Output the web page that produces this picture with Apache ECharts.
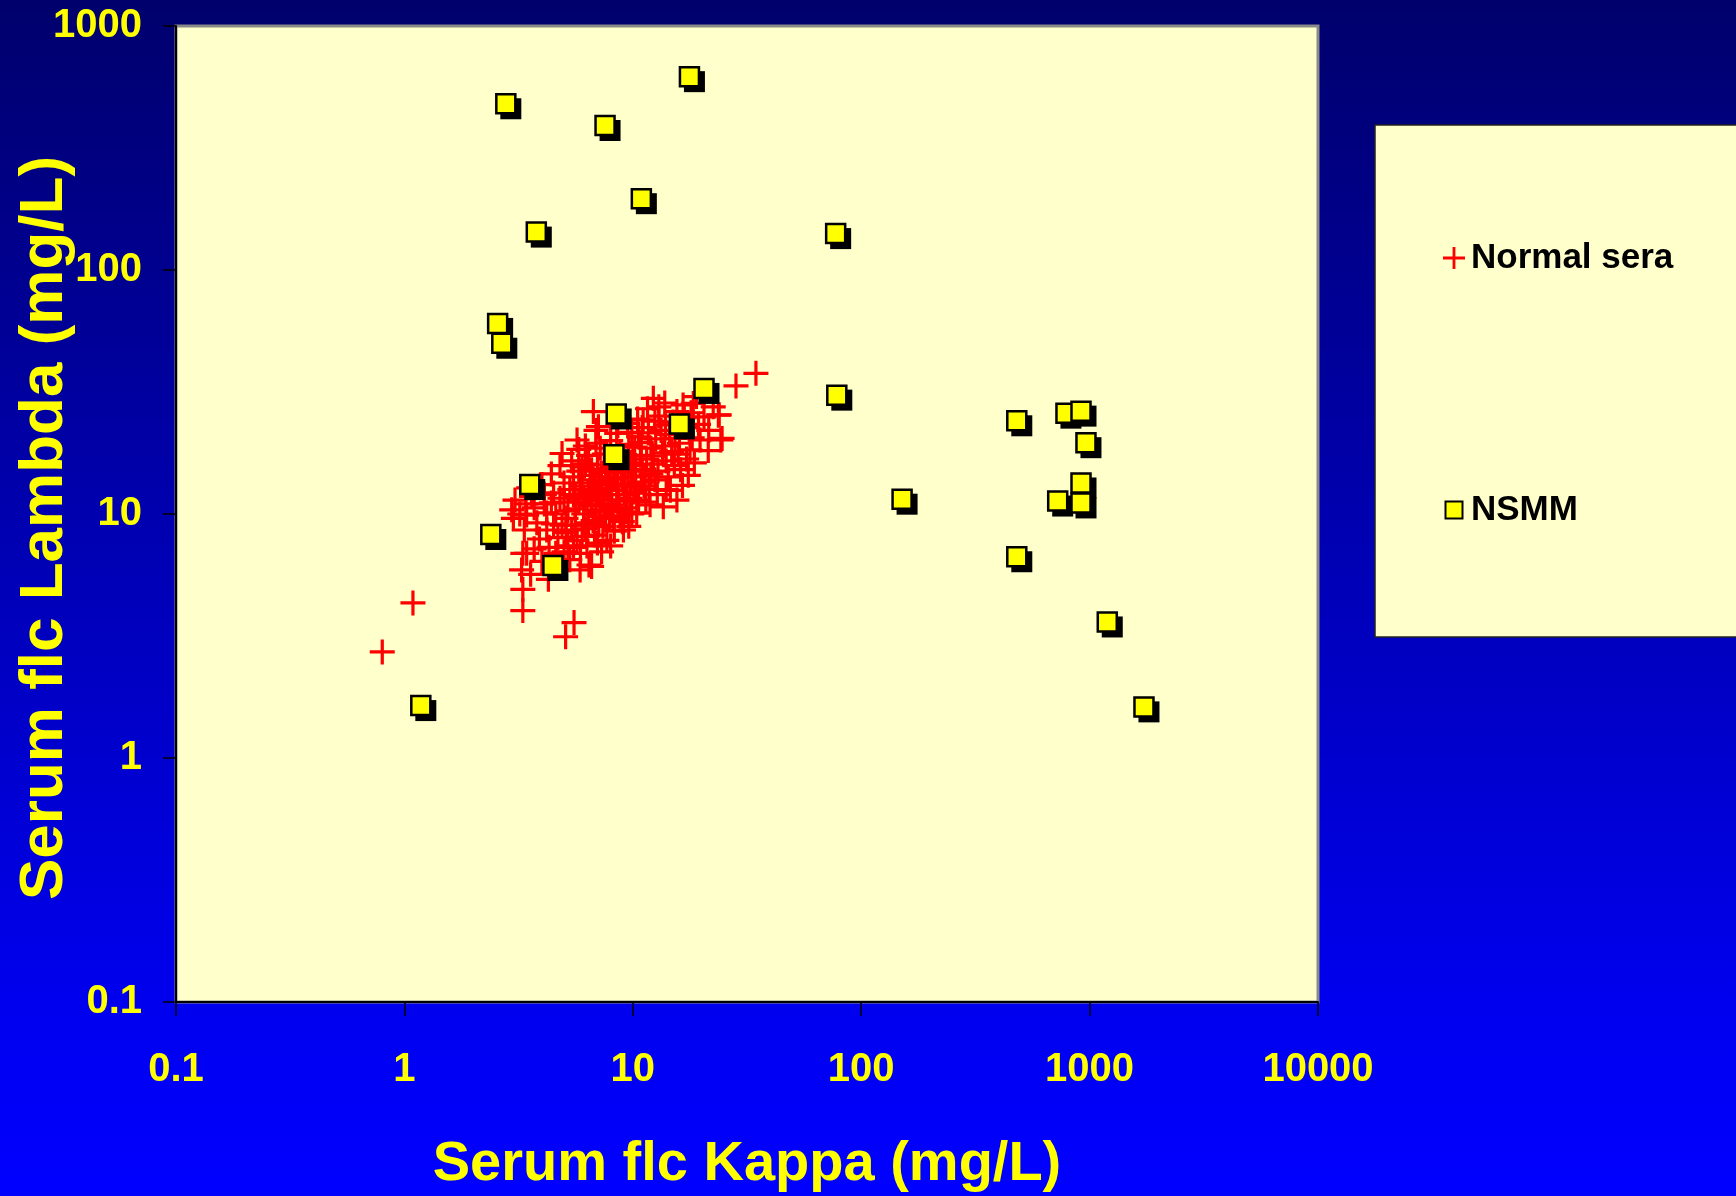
<!DOCTYPE html>
<html>
<head>
<meta charset="utf-8">
<script src="https://cdn.jsdelivr.net/npm/echarts@6/dist/echarts.min.js"></script>
<style>
html,body{margin:0;padding:0;width:1736px;height:1196px;overflow:hidden;}
#chart{width:1736px;height:1196px;}
</style>
</head>
<body>
<div id="chart"></div>
<script>
// ---- data ----
const seriesNames = ['Normal sera', 'NSMM'];
const xTickLabels = ['0.1', '1', '10', '100', '1000', '10000'];
const yTickLabels = ['0.1', '1', '10', '100', '1000'];
const xTitle = 'Serum flc Kappa (mg/L)';
const yTitle = 'Serum flc Lambda (mg/L)';

// Normal sera: [kappa, lambda] mg/L
const normalSera = [
  [0.80, 2.72], [1.09, 4.32], [3.30, 4.02], [3.30, 4.91], [3.26, 5.9], [3.30, 6.9], [3.43, 6.9],
  [3.57, 5.66], [4.27, 5.40], [5.08, 3.14], [5.53, 3.59], [6.43, 6.18], [34.6, 37.7], [28.3, 33.5],
  [23.9, 25.5], [24.3, 20.1], [21.4, 18.2], [19.4, 23.3], [18.4, 28.4],
  [2.95, 10.4], [3.05, 11.4], [3.0, 9.6], [3.2, 10.0], [3.43, 9.9], [3.35, 8.6], [3.6, 11.8],
  [3.5, 12.8], [3.7, 10.6], [3.8, 9.2], [3.9, 7.9], [3.7, 7.2], [4.0, 13.2], [4.1, 11.0],
  [4.2, 8.6], [4.0, 6.4], [4.3, 7.3], [4.4, 14.6], [4.5, 12.2], [4.6, 10.0], [4.5, 9.1],
  [4.7, 8.0], [4.6, 6.9], [4.8, 15.8], [4.9, 17.7], [5.0, 13.4], [5.0, 11.2], [5.1, 9.6],
  [5.1, 8.4], [5.2, 7.4], [5.3, 6.5], [5.4, 16.5], [5.5, 14.2], [5.5, 12.0], [5.6, 10.5],
  [5.6, 9.0], [5.7, 7.8], [5.7, 20.1], [5.8, 18.4], [5.9, 6.9], [5.88, 5.9], [6.0, 15.6],
  [6.0, 13.0], [6.1, 11.5], [6.1, 10.0], [6.2, 8.7], [6.3, 7.4], [6.4, 17.4], [6.5, 14.4],
  [6.5, 12.4], [6.6, 6.1], [6.6, 10.8], [6.7, 9.4], [6.72, 26.3], [6.8, 8.2], [6.9, 22.0],
  [6.9, 19.5], [7.0, 15.9], [7.07, 22.8], [7.1, 13.6], [7.2, 11.9], [7.2, 10.2], [7.3, 7.0],
  [7.4, 8.9], [7.5, 17.6], [7.6, 14.8], [7.7, 12.8], [7.7, 7.8], [7.8, 11.0], [7.9, 9.6],
  [8.0, 20.0], [8.1, 16.3], [8.2, 13.9], [8.3, 8.5], [8.5, 21.4], [8.5, 12.0], [8.6, 10.4],
  [8.8, 18.0], [8.9, 15.0], [9.0, 9.3], [9.1, 8.6], [9.2, 13.1], [9.3, 11.3], [9.5, 23.5],
  [9.6, 19.3], [9.7, 16.2], [9.9, 10.0], [10.0, 14.2], [10.1, 12.3], [10.4, 10.1], [10.5, 24.5],
  [10.6, 20.7], [10.8, 17.4], [11.0, 15.2], [11.1, 24.3], [11.2, 13.0], [11.4, 11.2], [11.7, 21.5],
  [12.0, 18.6], [12.2, 16.0], [12.3, 29.8], [12.5, 13.8], [12.8, 12.0], [13.0, 25.2], [13.3, 22.0],
  [13.6, 10.7], [13.8, 28.5], [13.8, 19.0], [14.0, 16.5], [14.3, 14.2], [14.6, 12.5], [15.0, 23.8],
  [15.3, 20.4], [15.6, 26.3], [15.6, 11.4], [15.8, 17.6], [16.2, 15.2], [16.5, 13.1], [17.0, 22.6],
  [17.5, 14.4], [17.8, 18.3], [18.2, 20.5], [18.6, 16.2], [19.0, 30.3], [19.7, 20.1], [20.5, 25.0],
  [21.5, 22.0], [22.5, 27.5], [23.7, 25.4], [24.6, 20.4], [18.0, 26.0], [16.6, 28.0], [11.6, 27.0],
  [6.3, 11.0], [6.8, 12.6], [7.5, 10.8], [8.0, 12.5], [8.4, 14.8], [8.7, 11.4], [9.4, 12.0],
  [9.8, 13.3], [10.3, 15.8], [10.9, 13.5], [11.5, 16.8], [12.0, 14.6], [7.1, 9.0], [7.8, 15.4],
  [6.2, 16.0], [5.3, 12.6], [5.8, 11.2], [6.7, 13.8], [9.0, 17.2], [10.2, 18.8], [12.6, 20.3],
  [13.9, 23.2], [14.8, 18.0], [4.2, 10.1], [4.8, 11.6], [5.0, 7.0], [5.4, 8.6], [6.4, 9.2],
  [7.0, 7.6], [8.2, 9.8], [9.6, 8.9],
  [5.2, 10.3], [5.6, 11.8], [5.9, 13.4], [6.1, 9.0], [6.4, 12.0], [6.6, 15.2], [6.9, 10.4],
  [7.0, 12.2], [7.3, 14.2], [7.4, 11.4], [7.6, 9.7], [7.9, 13.2], [8.1, 10.9], [8.3, 15.7],
  [8.6, 13.0], [8.8, 9.8], [9.0, 14.1], [9.2, 10.6], [9.5, 15.0], [9.7, 11.6], [10.0, 16.8],
  [10.3, 13.0], [10.6, 11.4], [10.9, 19.6], [11.3, 14.3], [11.8, 12.6], [12.3, 17.3], [12.9, 15.0],
  [13.5, 17.8], [14.5, 21.2], [15.2, 15.8], [16.0, 19.5], [16.8, 24.8], [17.2, 16.8], [6.0, 8.1],
  [5.5, 7.3], [4.9, 9.0], [4.4, 11.1], [4.1, 12.0], [3.4, 11.0], [6.2, 19.0], [7.2, 18.6],
  [8.6, 23.0], [9.9, 21.6], [11.0, 22.6], [12.5, 24.0], [13.0, 27.5], [8.0, 7.4], [9.4, 10.2],
  [11.9, 10.9], [14.0, 12.6], [5.8, 15.0]
];

// NSMM: [kappa, lambda] mg/L
const nsmm = [
  [2.78, 480], [17.7, 620], [7.56, 391], [10.9, 196], [3.78, 143], [77.3, 141],
  [2.56, 60.4], [2.67, 50.1], [20.5, 32.7], [78.2, 30.7], [8.46, 25.7], [16.0, 23.4],
  [8.27, 17.5], [3.54, 13.2], [2.39, 8.24], [4.47, 6.15], [1.18, 1.64], [151, 11.5],
  [480, 24.1], [480, 6.68], [788, 25.9], [917, 26.4], [964, 19.6], [917, 13.4],
  [725, 11.3], [917, 11.1], [1195, 3.61], [1730, 1.62]
];

// ---- styling ----
const BOLD = 'Liberation Sans, Arial, sans-serif';
const crossPath = 'path://M10.9,0 H14.1 V10.9 H25 V14.1 H14.1 V25 H10.9 V14.1 H0 V10.9 H10.9 Z';
const legendSquare = 'path://M0,0 M22,22 M2.5,2.5 H19.5 V19.5 H2.5 Z';
const labelFor = (arr) => (v) => {
  const i = Math.round(Math.log10(v)) + 1;
  return arr[i] !== undefined ? arr[i] : '';
};

const chart = echarts.init(document.getElementById('chart'), null, {renderer: 'canvas'});
chart.setOption({
  animation: false,
  backgroundColor: {
    type: 'linear', x: 0, y: 0, x2: 0, y2: 1,
    colorStops: [
      {offset: 0, color: '#00006C'},
      {offset: 0.85, color: '#0000F0'},
      {offset: 1, color: '#0000FF'}
    ]
  },
  grid: {
    left: 176, top: 26, width: 1142, height: 976,
    show: true, backgroundColor: '#FFFFCC', borderColor: '#8a8a8a', borderWidth: 3,
    containLabel: false, outerBoundsMode: 'none'
  },
  legend: {
    orient: 'vertical', left: 1375, top: 125,
    padding: [113, 120, 107, 67],
    itemGap: 212, itemWidth: 22, itemHeight: 22,
    backgroundColor: '#FFFFCC', borderColor: '#222', borderWidth: 1.5,
    selectedMode: false,
    textStyle: {color: '#000', fontFamily: BOLD, fontWeight: 'bold', fontSize: 35, lineHeight: 40, padding: [0, 0, 0, 1]},
    data: [
      {name: seriesNames[0], icon: crossPath},
      {name: seriesNames[1], icon: legendSquare}
    ]
  },
  xAxis: {
    type: 'log', logBase: 10, min: 0.1, max: 10000, splitNumber: 5,
    axisLine: {show: true, onZero: false, lineStyle: {color: '#000', width: 2}},
    axisTick: {show: true, inside: false, length: 14, lineStyle: {color: '#000', width: 1.5}},
    minorTick: {show: false}, splitLine: {show: false},
    axisLabel: {color: '#FFFF00', fontFamily: BOLD, fontWeight: 'bold', fontSize: 40, margin: 48,
      formatter: labelFor(xTickLabels)},
    name: xTitle, nameLocation: 'middle', nameGap: 135, nameMoveOverlap: false,
    nameTextStyle: {color: '#FFFF00', fontFamily: BOLD, fontWeight: 'bold', fontSize: 56}
  },
  yAxis: {
    type: 'log', logBase: 10, min: 0.1, max: 1000, splitNumber: 4,
    axisLine: {show: true, onZero: false, lineStyle: {color: '#000', width: 2}},
    axisTick: {show: true, inside: false, length: 13, lineStyle: {color: '#000', width: 1.5}},
    minorTick: {show: false}, splitLine: {show: false},
    axisLabel: {color: '#FFFF00', fontFamily: BOLD, fontWeight: 'bold', fontSize: 40, margin: 34,
      formatter: labelFor(yTickLabels)},
    name: yTitle, nameLocation: 'middle', nameRotate: 90, nameGap: 100, nameMoveOverlap: false,
    nameTextStyle: {color: '#FFFF00', fontFamily: BOLD, fontWeight: 'bold', fontSize: 62, padding: [0, 28, 0, 0]}
  },
  series: [
    {
      name: seriesNames[0], type: 'scatter', z: 2,
      symbol: crossPath, symbolSize: 25,
      itemStyle: {color: '#FF0000', opacity: 1},
      emphasis: {disabled: true},
      data: normalSera
    },
    {
      // drop shadow of the NSMM squares (not in legend)
      name: 'NSMM shadow', type: 'scatter', z: 3,
      symbol: 'rect', symbolSize: 21, symbolOffset: [5, 5],
      itemStyle: {color: '#000', opacity: 1},
      emphasis: {disabled: true}, silent: true,
      data: nsmm
    },
    {
      name: seriesNames[1], type: 'scatter', z: 4,
      symbol: 'rect', symbolSize: 19,
      itemStyle: {color: '#FFFF00', borderColor: '#000', borderWidth: 2.5, opacity: 1},
      emphasis: {disabled: true},
      data: nsmm
    }
  ]
});
</script>
</body>
</html>
